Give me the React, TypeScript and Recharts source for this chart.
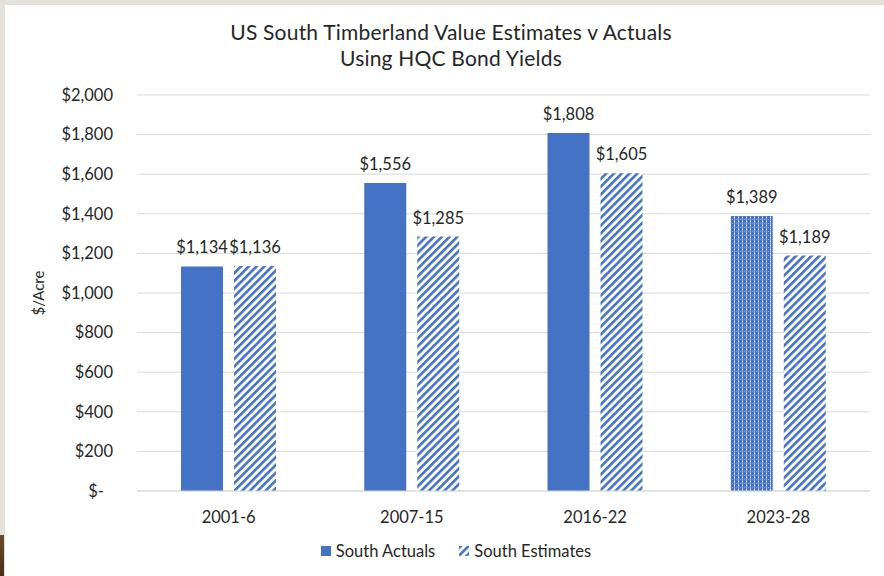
import React from "react";
import { BarChart, Bar, XAxis, YAxis, CartesianGrid, LabelList, Cell } from "recharts";

const categories = ["2001-6", "2007-15", "2016-22", "2023-28"];
const southActuals = [1134, 1556, 1808, 1389];
const southEstimates = [1136, 1285, 1605, 1189];
const yTicks = [0, 200, 400, 600, 800, 1000, 1200, 1400, 1600, 1800, 2000];
const titleLines = ["US South Timberland Value Estimates v Actuals", "Using HQC Bond Yields"];
const seriesNames = ["South Actuals", "South Estimates"];
const dottedCategory = "2023-28";

const data = categories.map((c, i) => ({ cat: c, actual: southActuals[i], estimate: southEstimates[i] }));

const BLUE = "#4472C4";
const TEXT = "#262626";
const FONT = "Lato, 'Open Sans', sans-serif";

const fmt = (v: number) => (v === 0 ? "$-" : "$" + v.toLocaleString("en-US"));

const YTick = (props: any) => {
  const { x, y, payload } = props;
  const v = payload.value;
  return (
    <text x={v === 0 ? x - 9 : x} y={y} dy="0.35em" textAnchor="end" fill={TEXT} fontSize={16.5} fontFamily={FONT}>
      {fmt(v)}
    </text>
  );
};

export default function App() {
  return (
    <div style={{ position: "absolute", left: 0, top: 0, width: 884, height: 576, background: "#fff", overflow: "hidden" }}>
      <svg width={0} height={0} style={{ position: "absolute" }}>
        <defs>
          <pattern id="stripes" patternUnits="userSpaceOnUse" width={5.5} height={5.5} patternTransform="rotate(45)">
            <rect x={0} y={0} width={5.5} height={5.5} fill="#fff" />
            <rect x={0} y={0} width={2.6} height={5.5} fill={BLUE} />
          </pattern>
          <pattern id="dots" patternUnits="userSpaceOnUse" width={4} height={4}>
            <rect x={0} y={0} width={4} height={4} fill={BLUE} />
            <rect x={2} y={0} width={1} height={4} fill="#a3b8e6" />
            <rect x={2} y={1} width={1} height={1} fill="#ffffff" />
            <rect x={0} y={3} width={1} height={1} fill="#8aa3dc" />
          </pattern>
        </defs>
      </svg>
      <div style={{ position: "absolute", left: 0, top: 0, width: 884, height: 5, background: "#e3e1da" }} />
      <div style={{ position: "absolute", left: 0, top: 0, width: 5, height: 576, background: "#e3e1da" }} />
      <div style={{ position: "absolute", left: 0, top: 535, width: 4, height: 41, background: "linear-gradient(#6b4a2a, #4a3018)" }} />
      <div
        style={{
          position: "absolute",
          left: 0,
          width: 902,
          top: 19,
          textAlign: "center",
          fontFamily: FONT,
          fontSize: 21,
          lineHeight: "26px",
          letterSpacing: "0.2px",
          color: TEXT,
        }}
      >
        <div>{titleLines[0]}</div>
        <div>{titleLines[1]}</div>
      </div>
      <div
        style={{
          position: "absolute",
          left: 38,
          top: 293,
          transform: "translate(-50%, -50%) rotate(-90deg)",
          fontFamily: FONT,
          fontSize: 15,
          color: TEXT,
          whiteSpace: "nowrap",
        }}
      >
        $/Acre
      </div>
      <div style={{ position: "absolute", left: 0, top: 0 }}>
        <BarChart
          width={884}
          height={576}
          data={data}
          margin={{ top: 95, right: 14, bottom: 55, left: 0 }}
          barSize={42}
          barGap={11}
        >
          <CartesianGrid vertical={false} stroke="#d9d9d9" strokeWidth={1} />
          <XAxis
            dataKey="cat"
            height={30}
            axisLine={{ stroke: "#d9d9d9" }}
            tickLine={false}
            tickSize={6}
            tickMargin={14}
            tick={{ fill: TEXT, fontSize: 16.5, fontFamily: FONT }}
          />
          <YAxis
            width={137}
            domain={[0, 2000]}
            ticks={yTicks}
            axisLine={false}
            tickLine={false}
            tickSize={6}
            tickMargin={18}
            tick={<YTick />}
            interval={0}
          />
          <Bar dataKey="actual" name={seriesNames[0]} fill={BLUE} isAnimationActive={false}>
            {data.map((d) => (
              <Cell key={d.cat} fill={d.cat === dottedCategory ? "url(#dots)" : BLUE} />
            ))}
            <LabelList dataKey="actual" position="top" offset={13} formatter={(v: any) => fmt(Number(v))} fill={TEXT} fontSize={16.5} fontFamily={FONT} />
          </Bar>
          <Bar dataKey="estimate" name={seriesNames[1]} fill="url(#stripes)" isAnimationActive={false}>
            <LabelList dataKey="estimate" position="top" offset={13} formatter={(v: any) => fmt(Number(v))} fill={TEXT} fontSize={16.5} fontFamily={FONT} />
          </Bar>
        </BarChart>
      </div>
      <div
        style={{
          position: "absolute",
          left: 0,
          width: 912,
          top: 541,
          display: "flex",
          justifyContent: "center",
          alignItems: "center",
          fontFamily: FONT,
          fontSize: 16.5,
          color: TEXT,
        }}
      >
        <svg width={10} height={10} style={{ marginRight: 5 }}>
          <rect width={10} height={10} fill={BLUE} />
        </svg>
        <span style={{ marginRight: 24 }}>{seriesNames[0]}</span>
        <svg width={10} height={10} style={{ marginRight: 5 }}>
          <rect width={10} height={10} fill="url(#stripes)" />
        </svg>
        <span>{seriesNames[1]}</span>
      </div>
    </div>
  );
}
